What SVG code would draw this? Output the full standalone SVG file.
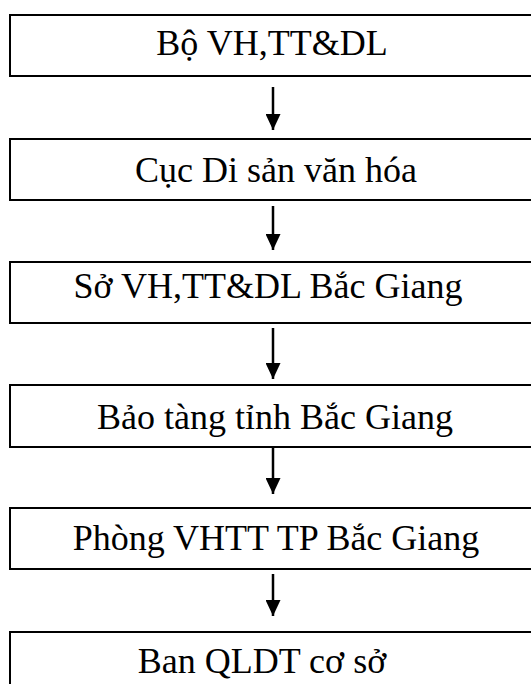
<svg xmlns="http://www.w3.org/2000/svg" width="531" height="684" viewBox="0 0 531 684">
<style>
.box{fill:#fff;stroke:#000;stroke-width:2}
.lbl{font-family:"Liberation Serif","Times New Roman",serif;font-size:36px;fill:#000;text-anchor:middle}
.con{stroke:#000;stroke-width:2.5;fill:none}
</style>
<defs>
<marker id="ah" viewBox="0 0 16 15" refX="16" refY="7.5" markerWidth="16" markerHeight="15" markerUnits="userSpaceOnUse" orient="auto">
<path d="M0,0 L16,7.5 L0,15 Z" fill="#000"/>
</marker>
</defs>
<rect width="531" height="684" fill="#fff"/>
<g id="n1"><rect class="box" x="10" y="15" width="540" height="61"/><text class="lbl" x="272" y="55">Bộ VH,TT&amp;DL</text></g>
<g id="n2"><rect class="box" x="10" y="139" width="540" height="61"/><text class="lbl" x="276" y="182">Cục Di sản văn hóa</text></g>
<g id="n3"><rect class="box" x="10" y="262" width="540" height="61"/><text class="lbl" x="268" y="298">Sở VH,TT&amp;DL Bắc Giang</text></g>
<g id="n4"><rect class="box" x="10" y="385" width="540" height="62"/><text class="lbl" x="275" y="429">Bảo tàng tỉnh Bắc Giang</text></g>
<g id="n5"><rect class="box" x="10" y="508" width="540" height="61"/><text class="lbl" x="276" y="550">Phòng VHTT TP Bắc Giang</text></g>
<g id="n6"><rect class="box" x="10" y="632" width="540" height="80"/><text class="lbl" x="262" y="673">Ban QLDT cơ sở</text></g>
<g id="connectors">
<line class="con" x1="273" y1="87" x2="273" y2="130" marker-end="url(#ah)"/>
<line class="con" x1="273" y1="206" x2="273" y2="250" marker-end="url(#ah)"/>
<line class="con" x1="273" y1="328" x2="273" y2="379" marker-end="url(#ah)"/>
<line class="con" x1="273" y1="448" x2="273" y2="494" marker-end="url(#ah)"/>
<line class="con" x1="273" y1="574" x2="273" y2="616" marker-end="url(#ah)"/>
</g>
</svg>
